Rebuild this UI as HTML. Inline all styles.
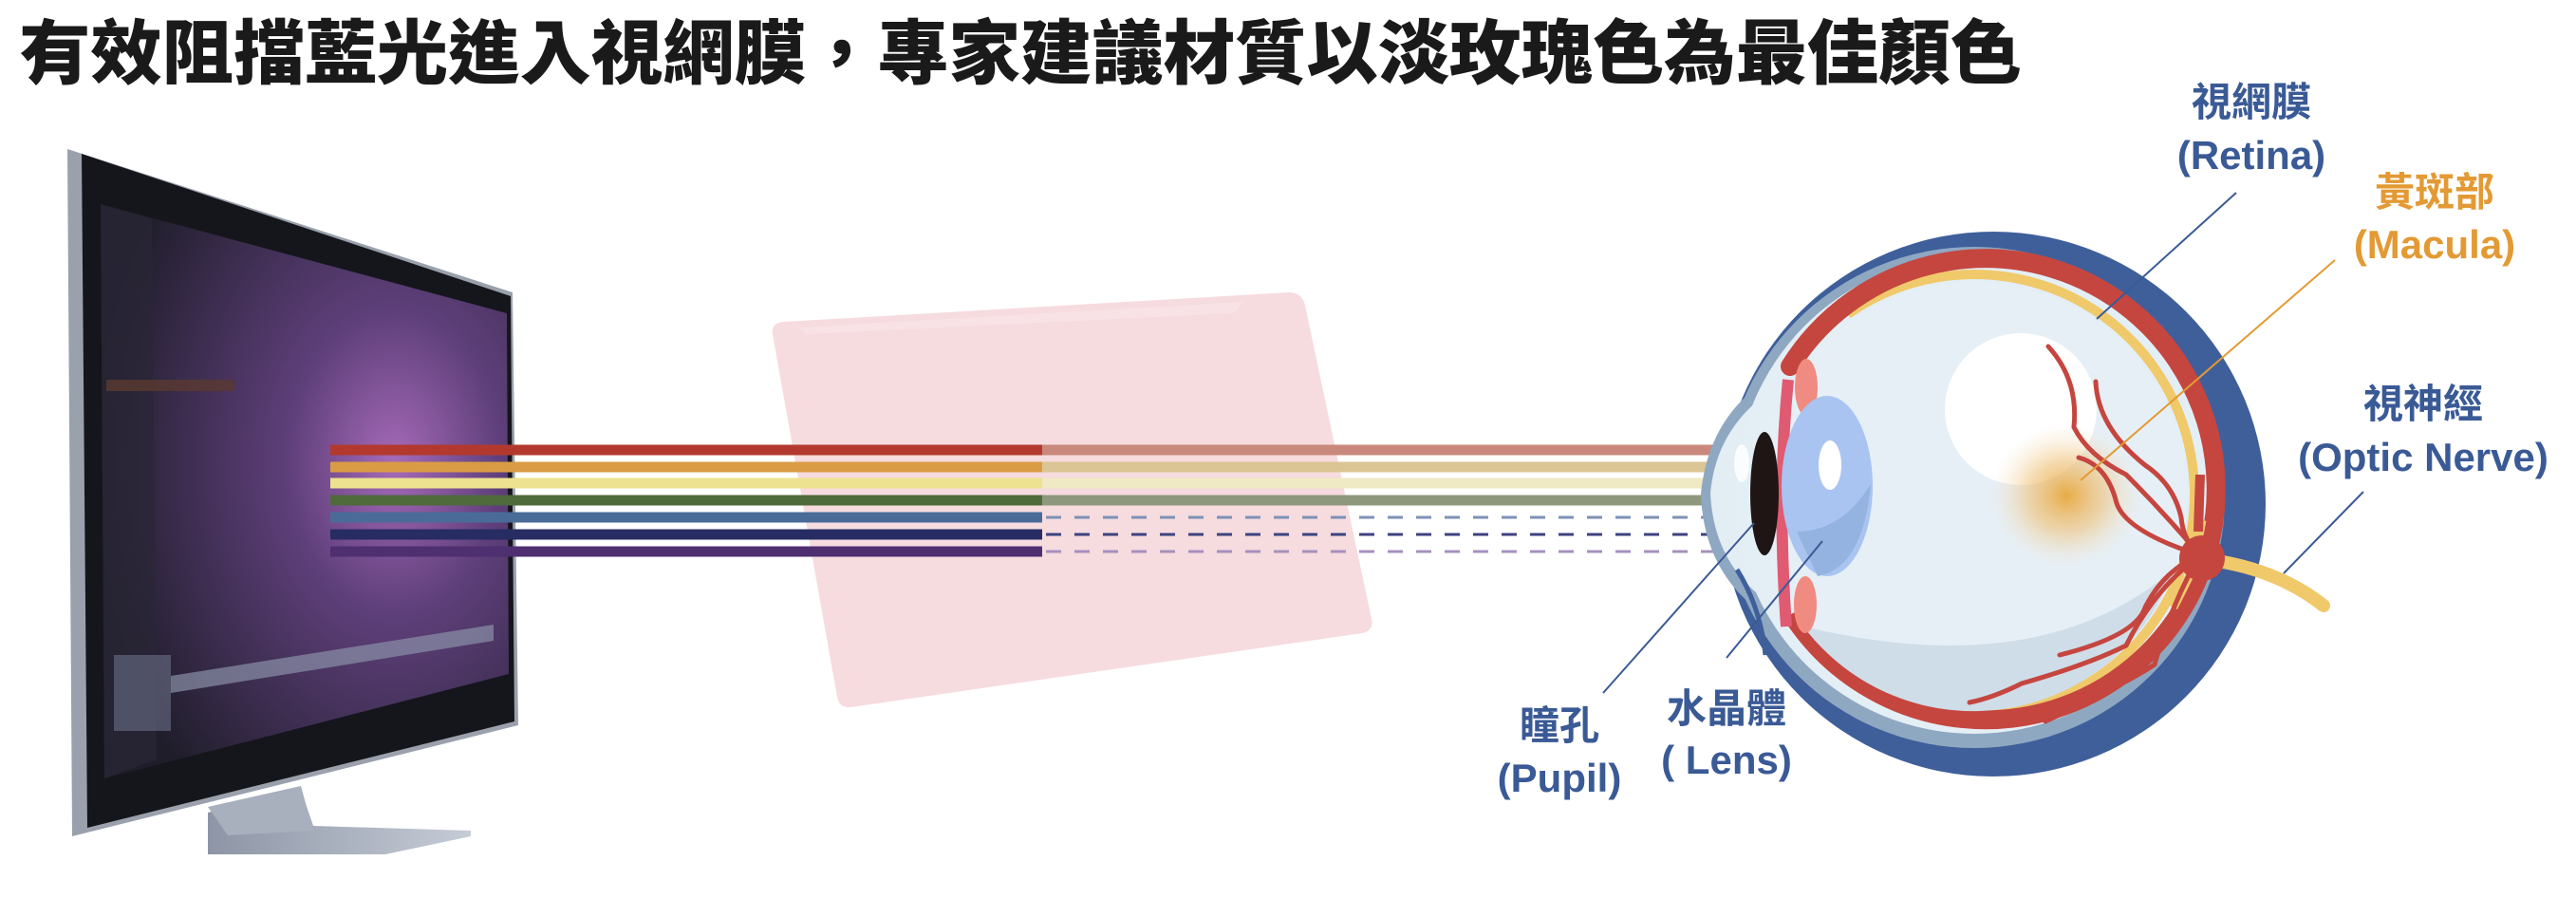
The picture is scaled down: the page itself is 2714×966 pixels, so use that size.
<!DOCTYPE html>
<html><head><meta charset="utf-8"><style>
html,body{margin:0;padding:0;background:#fff;width:2714px;height:966px;overflow:hidden}
</style></head><body>
<svg width="2714" height="966" viewBox="0 0 2714 966" xmlns="http://www.w3.org/2000/svg">
<defs>
<radialGradient id="scr" cx="0.72" cy="0.45" r="0.75">
<stop offset="0" stop-color="#a66ab8"/><stop offset="0.35" stop-color="#5e3f7a"/><stop offset="1" stop-color="#1f1d2a"/>
</radialGradient>
<radialGradient id="mac" cx="0.5" cy="0.5" r="0.5">
<stop offset="0" stop-color="#e8a73c" stop-opacity="0.95"/><stop offset="0.5" stop-color="#efc27a" stop-opacity="0.6"/><stop offset="1" stop-color="#f5e3c4" stop-opacity="0"/>
</radialGradient>
<linearGradient id="stand" x1="0" y1="0" x2="1" y2="0"><stop offset="0" stop-color="#8d95a6"/><stop offset="1" stop-color="#c6ccd6"/></linearGradient>
</defs>
<text x="20" y="82" font-family="Liberation Sans, Noto Sans CJK TC, sans-serif" font-weight="900" font-size="74" fill="#1a1a1a" textLength="2110" lengthAdjust="spacingAndGlyphs">有效阻擋藍光進入視網膜，專家建議材質以淡玫瑰色為最佳顏色</text>

<!-- monitor -->
<polygon points="219,856 317,832 330,870 496,875 496,881 406,900 219,900" fill="url(#stand)"/>
<polygon points="219,850 317,828 330,875 240,880" fill="#a8afbd"/>
<polygon points="71,157 540,308 546,764 76,881" fill="#9aa1ad"/>
<polygon points="86,162 538,312 542,760 92,872" fill="#15161b"/>
<polygon points="106,215 534,330 536,710 110,820" fill="url(#scr)"/>
<polygon points="106,215 160,230 165,800 110,820" fill="#2a2636" opacity="0.7"/>
<rect x="112" y="400" width="135" height="12" fill="#5a3a30" opacity="0.8"/>
<rect x="120" y="690" width="60" height="80" fill="#6a7088" opacity="0.6"/>
<polygon points="180,712 520,658 520,675 180,730" fill="#8a90a8" opacity="0.7"/>

<!-- pink filter -->
<path d="M826,339 L1358,308 Q1372,308 1375,322 L1445,652 Q1448,664 1435,667 L896,745 Q884,746 882,734 L814,352 Q812,340 826,339Z" fill="#f5d7dc" opacity="0.9"/>
<polygon points="840,345 1310,318 1300,330 850,352" fill="#f8e2e6"/>

<!-- rays -->
<g stroke-width="11">
<line x1="348" y1="474" x2="1098" y2="474" stroke="#b3392e"/>
<line x1="348" y1="492" x2="1098" y2="492" stroke="#d99c45"/>
<line x1="348" y1="509" x2="1098" y2="509" stroke="#ece28f"/>
<line x1="348" y1="527" x2="1098" y2="527" stroke="#4f6a3b"/>
<line x1="348" y1="545" x2="1098" y2="545" stroke="#4a6b98"/>
<line x1="348" y1="563" x2="1098" y2="563" stroke="#272c63"/>
<line x1="348" y1="581" x2="1098" y2="581" stroke="#4e2f70"/>
<line x1="1098" y1="474" x2="1855" y2="474" stroke="#c8887b"/>
<line x1="1098" y1="492" x2="1855" y2="492" stroke="#dcc595"/>
<line x1="1098" y1="509" x2="1855" y2="509" stroke="#efeac4"/>
<line x1="1098" y1="527" x2="1855" y2="527" stroke="#8e987c"/>
</g>
<g stroke-width="3" stroke-dasharray="16,14">
<line x1="1102" y1="545" x2="1855" y2="545" stroke="#7d92b6"/>
<line x1="1102" y1="563" x2="1855" y2="563" stroke="#3e4380"/>
<line x1="1102" y1="581" x2="1855" y2="581" stroke="#a690bd"/>
</g>

<!-- eye -->
<circle cx="2100" cy="531" r="287" fill="#3f5f9b"/>
<path d="M1862,400 Q1800,440 1792,520 Q1795,610 1870,655" fill="#8fa8c2"/>
<circle cx="2080" cy="524" r="264" fill="#8fa8c2"/>
<path d="M1868,410 Q1808,450 1802,520 Q1806,600 1872,640 Z" fill="#e3edf4"/>
<circle cx="2080" cy="521" r="252" fill="#e4eef5"/>
<path d="M1830,600 Q1855,640 1860,690" stroke="#3f5f9b" stroke-width="5" fill="none"/>
<circle cx="2080" cy="521" r="232" fill="none" stroke="#f0c96a" stroke-width="10" stroke-dasharray="900 600" transform="rotate(-125 2080 521)"/>
<path d="M1886,386 A243,243 0 1 1 1893,655" fill="none" stroke="#c5463f" stroke-width="20" stroke-linecap="round"/>
<circle cx="2080" cy="521" r="224" fill="#e6eff6"/>
<path d="M1900,660 A224,224 0 0 0 2290,600 Q2150,720 1900,660Z" fill="#cfdde8"/>
<circle cx="2129" cy="431" r="80" fill="#ffffff"/>
<ellipse cx="2177" cy="522" rx="80" ry="75" fill="url(#mac)"/>
<!-- iris/ciliary -->
<path d="M1884,400 Q1872,520 1882,660" stroke="#e05a72" stroke-width="12" fill="none"/>
<ellipse cx="1903" cy="408" rx="12" ry="30" fill="#ef8b80"/>
<ellipse cx="1902" cy="637" rx="12" ry="30" fill="#ef8b80"/>
<ellipse cx="1925" cy="512" rx="48" ry="95" fill="#a9c4f0"/>
<path d="M1893,560 Q1940,560 1971,510 Q1963,598 1915,607 Z" fill="#95b3e0"/>
<ellipse cx="1928" cy="490" rx="12" ry="26" fill="#fff"/>
<ellipse cx="1859" cy="520" rx="15" ry="65" fill="#1e1514"/>
<ellipse cx="1835" cy="488" rx="8" ry="20" fill="#fff" opacity="0.8"/>
<!-- optic nerve -->
<path d="M2330,590 Q2400,600 2448,638" stroke="#f0c96a" stroke-width="14" fill="none" stroke-linecap="round"/>
<path d="M2320,548 L2310,600 L2290,640" stroke="#f0c96a" stroke-width="9" fill="none"/>
<g stroke="#c5463f" stroke-width="5" fill="none" stroke-linecap="round">
<path d="M2158,365 Q2190,400 2185,450 Q2200,480 2240,500 Q2280,540 2318,585"/>
<path d="M2208,402 Q2210,450 2260,490 Q2290,510 2298,545 Q2300,570 2318,585"/>
<path d="M2190,482 Q2220,490 2230,530 Q2240,560 2318,585"/>
<path d="M2318,585 Q2280,600 2260,640 Q2250,670 2170,690"/>
<path d="M2318,585 Q2270,620 2240,680 Q2200,700 2130,720 Q2100,735 2075,740"/>
<path d="M2318,585 Q2290,630 2270,700 Q2240,720 2155,760"/>
</g>
<path d="M2316,560 L2318,500" stroke="#c5463f" stroke-width="10"/>
<circle cx="2320" cy="588" r="24" fill="#c5463f"/>

<!-- leader lines -->
<g stroke-width="2" fill="none">
<line x1="2356" y1="203" x2="2209" y2="336" stroke="#3a5a96"/>
<line x1="2460" y1="274" x2="2192" y2="506" stroke="#e39a34"/>
<line x1="2490" y1="518" x2="2406" y2="604" stroke="#3a5a96"/>
<line x1="1689" y1="730" x2="1848" y2="551" stroke="#3a5a96"/>
<line x1="1819" y1="693" x2="1920" y2="570" stroke="#3a5a96"/>
</g>

<g font-family="Liberation Sans, Noto Sans CJK TC, sans-serif" font-weight="700" font-size="42" text-anchor="middle" fill="#3a5a96">
<text x="2372" y="122">視網膜</text>
<text x="2372" y="178">(Retina)</text>
<text x="2565" y="217" fill="#e39a34">黃斑部</text>
<text x="2565" y="272" fill="#e39a34">(Macula)</text>
<text x="2553" y="440">視神經</text>
<text x="2553" y="496">(Optic Nerve)</text>
<text x="1643" y="779">瞳孔</text>
<text x="1643" y="834">(Pupil)</text>
<text x="1819" y="761">水晶體</text>
<text x="1819" y="815">( Lens)</text>
</g>
</svg>
</body></html>
